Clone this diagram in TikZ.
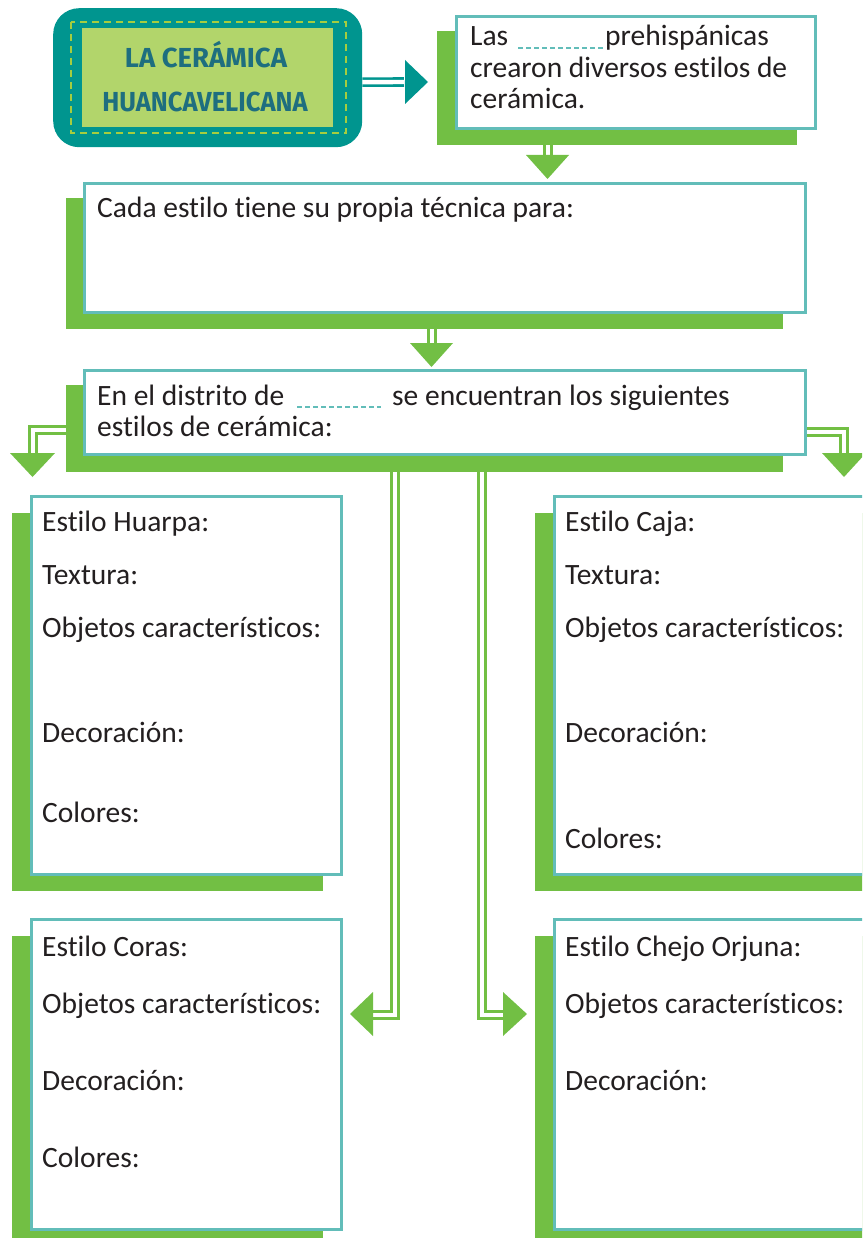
\documentclass[tikz,border=0pt]{standalone}
\usepackage{fontspec}
\setmainfont{Carlito}[Ligatures=NoCommon]
\newfontfamily\titlefont{Fira Sans}
\usetikzlibrary{calc}
\definecolor{lgreen}{HTML}{72BF44}
\definecolor{tealb}{HTML}{62BDB9}
\definecolor{tealdark}{HTML}{00958F}
\definecolor{palegreen}{HTML}{B2D56B}
\definecolor{dashgreen}{HTML}{A5CD3F}
\definecolor{titletext}{HTML}{1E6E7F}
\definecolor{txt}{HTML}{231F20}
\begin{document}
\begin{tikzpicture}[x=1pt,y=-1pt,
  box/.style={draw=tealb, line width=2.6pt, fill=white, inner sep=0pt, anchor=north west},
  shadowbox/.style={fill=lgreen},
  lbl/.style={anchor=base west, inner sep=0pt, text=txt, font=\fontsize{29.5}{31.5}\selectfont},
  dbl/.style={draw=lgreen, line width=2.6pt, double=white, double distance=4.4pt},
  tdbl/.style={draw=tealdark, line width=2.6pt, double=white, double distance=4.4pt},
  blank/.style={draw=tealb, line width=1.2pt, dash pattern=on 5pt off 3pt},
  ttl/.style={anchor=base, inner sep=0pt, text=titletext, font=\titlefont\bfseries\fontsize{27.5}{30}\selectfont}
]
\useasboundingbox (0,0) rectangle (862,1238);
\clip (0,0) rectangle (862,1238);

% ---------- title ----------
\node[fill=tealdark, rounded corners=26pt, minimum width=309pt, minimum height=139pt, anchor=north west, inner sep=0pt] (title) at (53,8) {};
\fill[palegreen] (82,28) rectangle (333,127);
\draw[dashgreen, line width=2pt, dash pattern=on 7pt off 5pt] (71,22) rectangle (346,133);
\node[ttl] (ttla) at (206,68) {LA CERÁMICA};
\node[ttl] (ttlb) at (205,112) {\scalebox{0.93}[1]{HUANCAVELICANA}};

% ---------- connectors (drawn first) ----------
\coordinate (tA) at (428,82);
\draw[tdbl] ($(title.east)+(0,4.5)$) -- ($(tA)+(-24,0)$);
\fill[tealdark] ($(tA)+(-23,-22)$) -- (tA) -- ($(tA)+(-23,22)$) -- cycle;

\coordinate (tB) at (547.5,179);
\draw[dbl] (548,144) -- ($(tB)+(0.5,-23)$);
\fill[lgreen] ($(tB)+(-21.5,-24)$) -- (tB) -- ($(tB)+(21.5,-24)$) -- cycle;

\coordinate (tC) at (431.5,367);
\draw[dbl] (432,328) -- ($(tC)+(0.5,-23)$);
\fill[lgreen] ($(tC)+(-21.5,-24)$) -- (tC) -- ($(tC)+(21.5,-24)$) -- cycle;

\coordinate (tL) at (32.5,477);
\coordinate (tR) at (844,477);
\coordinate (tCo) at (350,1014);
\coordinate (tCh) at (527,1014);

% ---------- box 1 ----------
\fill[shadowbox] (437,31) rectangle (797,145);
\node[box, minimum width=359pt, minimum height=112pt] (b1) at (455,15) {};
\node[lbl] (t1a) at (470,46) {Las};
\draw[blank] (518,48) -- (603,48);
\node[lbl] (t1b) at (605,46) {prehispánicas};
\node[lbl] (t1c) at (470,77.5) {crearon diversos estilos de};
\node[lbl] (t1d) at (470,109) {cerámica.};

% ---------- box 2 ----------
\fill[shadowbox] (66,198) rectangle (783,329);
\node[box, minimum width=721pt, minimum height=129pt] (b2) at (83,182) {};
\node[lbl] (t2) at (97,218) {Cada estilo tiene su propia técnica para:};

% ---------- branches from box 3 ----------
\draw[dbl] (70,430) -- (33,430) -- ($(tL)+(0.5,-23)$);
\fill[lgreen] ($(tL)+(-22.5,-24)$) -- (tL) -- ($(tL)+(22.5,-24)$) -- cycle;
\draw[dbl] (800,432) -- (844,432) -- ($(tR)+(0,-23)$);
\fill[lgreen] ($(tR)+(-22,-24)$) -- (tR) -- ($(tR)+(22,-24)$) -- cycle;
\draw[dbl] (395,460) -- (395,1015) -- ($(tCo)+(23,1)$);
\fill[lgreen] ($(tCo)+(23,-22)$) -- (tCo) -- ($(tCo)+(23,22)$) -- cycle;
\draw[dbl] (482,460) -- (482,1015) -- ($(tCh)+(-24,1)$);
\fill[lgreen] ($(tCh)+(-24,-22)$) -- (tCh) -- ($(tCh)+(-24,22)$) -- cycle;

% ---------- box 3 ----------
\fill[shadowbox] (66,385) rectangle (783,472);
\node[box, minimum width=721pt, minimum height=84pt] (b3) at (83,369) {};
\node[lbl] (t3a) at (97,405) {En el distrito de};
\draw[blank] (297,407) -- (381,407);
\node[lbl] (t3b) at (392,405) {se encuentran los siguientes};
\node[lbl] (t3c) at (97,436) {estilos de cerámica:};

% ---------- Huarpa ----------
\fill[shadowbox] (12,513) rectangle (323,891);
\node[box, minimum width=310pt, minimum height=378pt] (hu) at (30,495) {};
\node[lbl] (hu1) at (42,531) {Estilo Huarpa:};
\node[lbl] (hu2) at (42,584) {Textura:};
\node[lbl] (hu3) at (42,637) {Objetos característicos:};
\node[lbl] (hu4) at (42,742) {Decoración:};
\node[lbl] (hu5) at (42,822) {Colores:};

% ---------- Caja ----------
\fill[shadowbox] (535,513) rectangle (870,891);
\node[box, minimum width=340pt, minimum height=378pt] (ca) at (553,495) {};
\node[lbl] (ca1) at (565,531) {Estilo Caja:};
\node[lbl] (ca2) at (565,584) {Textura:};
\node[lbl] (ca3) at (565,637) {Objetos característicos:};
\node[lbl] (ca4) at (565,742) {Decoración:};
\node[lbl] (ca5) at (565,848) {Colores:};

% ---------- Coras ----------
\fill[shadowbox] (12,936) rectangle (323,1245);
\node[box, minimum width=310pt, minimum height=310pt] (co) at (30,918) {};
\node[lbl] (co1) at (42,956) {Estilo Coras:};
\node[lbl] (co2) at (42,1013) {Objetos característicos:};
\node[lbl] (co3) at (42,1090) {Decoración:};
\node[lbl] (co4) at (42,1167) {Colores:};

% ---------- Chejo Orjuna ----------
\fill[shadowbox] (535,936) rectangle (870,1245);
\node[box, minimum width=340pt, minimum height=310pt] (ch) at (553,918) {};
\node[lbl] (ch1) at (565,956) {Estilo Chejo Orjuna:};
\node[lbl] (ch2) at (565,1013) {Objetos característicos:};
\node[lbl] (ch3) at (565,1090) {Decoración:};
\end{tikzpicture}
\end{document}
